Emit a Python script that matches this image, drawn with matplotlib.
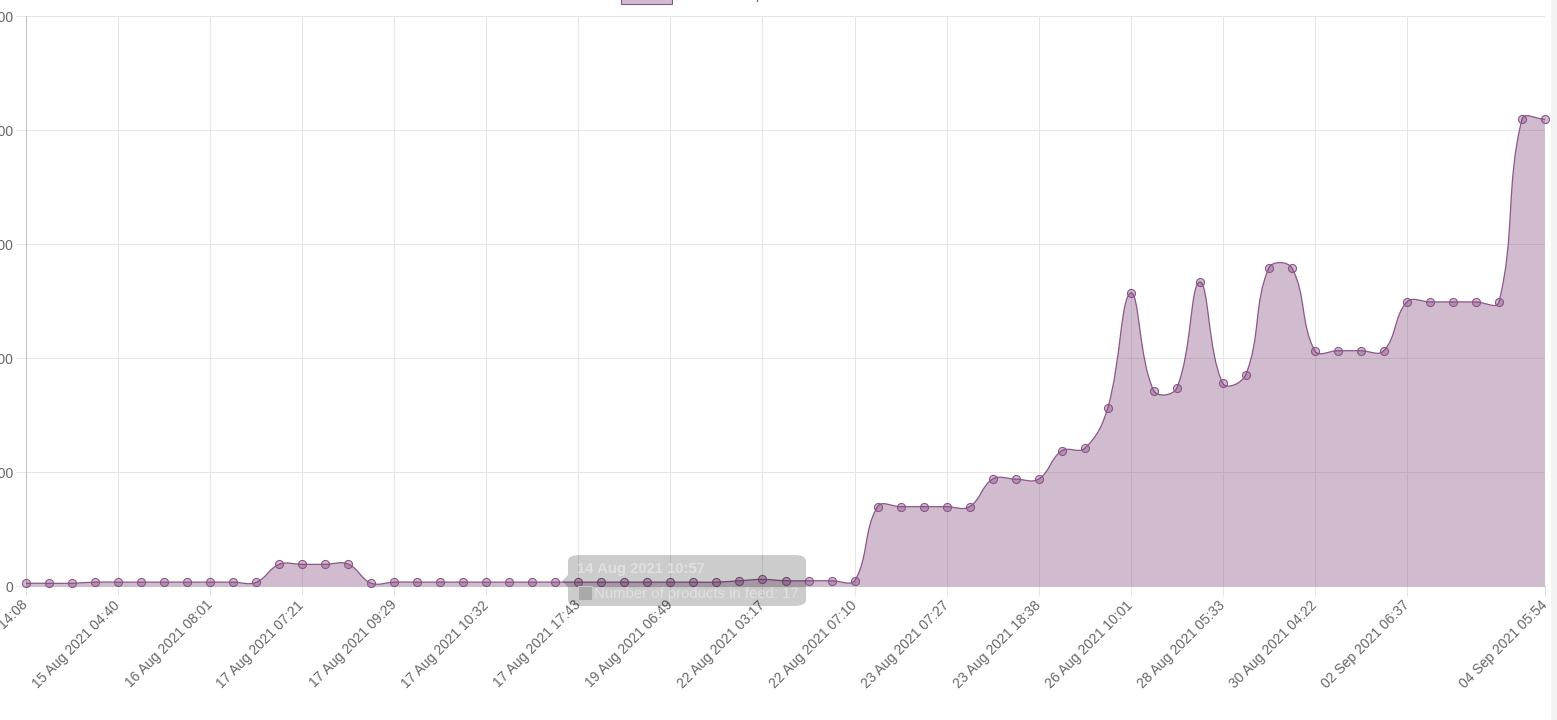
import matplotlib.pyplot as plt
import numpy as np
from matplotlib.patches import FancyBboxPatch, PathPatch, Polygon, Rectangle
from matplotlib.path import Path

plt.rcParams["font.family"] = ["Liberation Sans", "DejaVu Sans"]

W, H = 1557, 720

# number of products in feed, one value per snapshot
products = [
    12, 12, 12, 17, 17, 17, 17, 17, 17, 17, 16,
    95, 95, 95, 96, 12,
    17, 17, 17, 17, 17, 17, 17, 17, 17, 17, 17, 17, 17, 17, 17,
    23, 29, 23, 23, 23, 22,
    348, 348, 348, 348, 348,
    469, 469, 469, 593, 604, 781, 1285, 857, 868, 1333, 889, 927,
    1395, 1395, 1032, 1032, 1032, 1032,
    1246, 1246, 1246, 1246, 1246, 2047, 2047,
]

tick_idx = [0, 4, 8, 12, 16, 20, 24, 28, 32, 36, 40, 44, 48, 52, 56, 60, 66]
tick_labels = [
    "13 Aug 2021 14:08", "15 Aug 2021 04:40", "16 Aug 2021 08:01",
    "17 Aug 2021 07:21", "17 Aug 2021 09:29", "17 Aug 2021 10:32",
    "17 Aug 2021 17:43", "19 Aug 2021 06:49", "22 Aug 2021 03:17",
    "22 Aug 2021 07:10", "23 Aug 2021 07:27", "23 Aug 2021 18:38",
    "26 Aug 2021 10:01", "28 Aug 2021 05:33", "30 Aug 2021 04:22",
    "02 Sep 2021 06:37", "04 Sep 2021 05:54",
]
y_ticks = [0, 500, 1000, 1500, 2000, 2500]

series_label = "Number of products in feed"
tip_title = "14 Aug 2021 10:57"
tip_body = "Number of products in feed: 17"

LINE = "#8b5789"
FILL = (0.49, 0.25, 0.47, 0.35)
GRID = "#e5e5e5"
AXIS = "#c4c4c4"
TEXT = "#666666"

fig = plt.figure(figsize=(W / 100, H / 100), dpi=100)
left, right, top, bottom = 26, 1545, 16, 586
ax = fig.add_axes([left / W, 1 - bottom / H, (right - left) / W, (bottom - top) / H])

x = np.arange(len(products), dtype=float)
y = np.array(products, dtype=float)
ax.set_xlim(0, len(products) - 1)
ax.set_ylim(y_ticks[0], y_ticks[-1])


def spline_path(xs, ys, tension=0.4):
    # chart.js style bezier, distances measured in pixels
    sx = (right - left) / (xs[-1] - xs[0])
    sy = (bottom - top) / (y_ticks[-1] - y_ticks[0])
    n = len(xs)
    cp_prev, cp_next = [], []
    for i in range(n):
        p0 = (xs[max(i - 1, 0)], ys[max(i - 1, 0)])
        p1 = (xs[i], ys[i])
        p2 = (xs[min(i + 1, n - 1)], ys[min(i + 1, n - 1)])
        d01 = np.hypot((p1[0] - p0[0]) * sx, (p1[1] - p0[1]) * sy)
        d12 = np.hypot((p2[0] - p1[0]) * sx, (p2[1] - p1[1]) * sy)
        tot = d01 + d12
        s01 = d01 / tot if tot else 0
        s12 = d12 / tot if tot else 0
        fa, fb = tension * s01, tension * s12
        px = p1[0] - fa * (p2[0] - p0[0])
        py = p1[1] - fa * (p2[1] - p0[1])
        nx = p1[0] + fb * (p2[0] - p0[0])
        ny = p1[1] + fb * (p2[1] - p0[1])
        cp_prev.append((np.clip(px, xs[0], xs[-1]), np.clip(py, y_ticks[0], y_ticks[-1])))
        cp_next.append((np.clip(nx, xs[0], xs[-1]), np.clip(ny, y_ticks[0], y_ticks[-1])))
    verts = [(xs[0], ys[0])]
    codes = [Path.MOVETO]
    for i in range(n - 1):
        verts += [cp_next[i], cp_prev[i + 1], (xs[i + 1], ys[i + 1])]
        codes += [Path.CURVE4] * 3
    return verts, codes


verts, codes = spline_path(x, y)
line_path = Path(verts, codes)
fill_verts = verts + [(x[-1], 0), (x[0], 0), (x[0], y[0])]
fill_codes = codes + [Path.LINETO, Path.LINETO, Path.CLOSEPOLY]
ax.add_patch(PathPatch(Path(fill_verts, fill_codes), facecolor=FILL, edgecolor="none", zorder=2))
ax.add_patch(PathPatch(line_path, facecolor="none", edgecolor=LINE, linewidth=0.9, zorder=3))
ax.plot(x, y, linestyle="none", marker="o", markersize=5.8, markerfacecolor=FILL,
        markeredgecolor=LINE, markeredgewidth=0.8, clip_on=False, zorder=4)

ax.set_xticks(tick_idx)
ax.set_xticklabels(tick_labels, rotation=45, ha="right", va="center", rotation_mode="anchor")
ax.set_yticks(y_ticks)
ax.set_yticklabels([str(v) for v in y_ticks])
ax.tick_params(axis="x", length=7.2, width=0.72, color=GRID, pad=5, labelsize=10, labelcolor=TEXT)
ax.tick_params(axis="y", length=7.2, width=0.72, color=GRID, pad=2, labelsize=10, labelcolor=TEXT)
ax.grid(True, color=GRID, linewidth=0.72)
ax.set_axisbelow(True)
for side in ("top", "right"):
    ax.spines[side].set_visible(False)
for side in ("left", "bottom"):
    ax.spines[side].set_color(AXIS)
    ax.spines[side].set_linewidth(0.8)


def fx(px):
    return px / W


def fy(py):
    return 1 - py / H


# legend, mostly above the visible area
fig.patches.append(Rectangle((fx(621), fy(4)), fx(672) - fx(621), 14 / H, transform=fig.transFigure,
                             facecolor=FILL, edgecolor=LINE, linewidth=0.8))
fig.text(fx(682), fy(-1), series_label, fontsize=10.7, color=TEXT, va="baseline")

# faded tooltip
fig.patches.append(FancyBboxPatch((fx(568), fy(606)), fx(806) - fx(568), (606 - 555) / H,
                                  boxstyle="round,pad=0,rounding_size=0.008", transform=fig.transFigure,
                                  facecolor=(0, 0, 0, 0.2), edgecolor="none", zorder=10))
fig.patches.append(Polygon([(fx(568), fy(575)), (fx(562), fy(581)), (fx(568), fy(587))],
                           closed=True, transform=fig.transFigure, facecolor=(0, 0, 0, 0.2),
                           edgecolor="none", zorder=10))
fig.patches.append(Rectangle((fx(578), fy(600)), 14 / W, 14 / H, transform=fig.transFigure,
                             facecolor="#a9a9a9", edgecolor="#c9c9c9", linewidth=0.8, zorder=11))
fig.text(fx(577), fy(573), tip_title, fontsize=10.7, fontweight="bold", color="#e0e0e0",
         va="baseline", zorder=12)
fig.text(fx(594), fy(598), tip_body, fontsize=10.7, color="#e0e0e0", va="baseline", zorder=12)

# scrollbar strip at the right edge
fig.patches.append(Rectangle((fx(1551), 0), 6 / W, 1, transform=fig.transFigure,
                             facecolor="#f3f3f3", edgecolor="none"))

fig.savefig("out.png", dpi=100)
